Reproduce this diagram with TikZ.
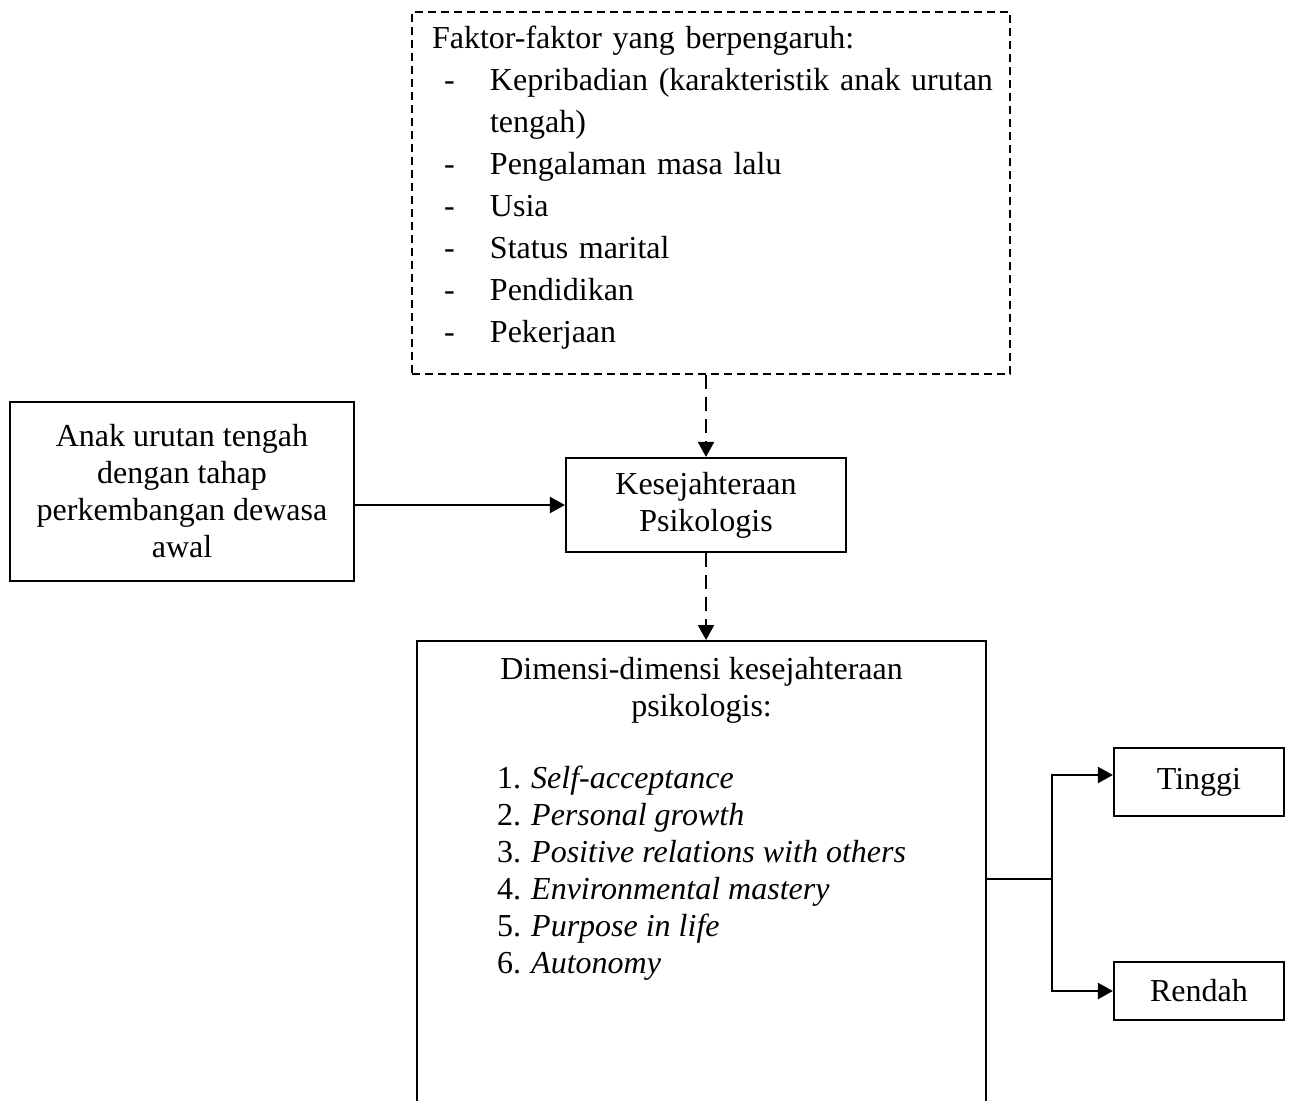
\documentclass[tikz,border=0pt]{standalone}
\usepackage{fontspec}
\setmainfont{Liberation Serif}
\usetikzlibrary{arrows.meta}
\begin{document}
\begin{tikzpicture}[x=0.5pt, y=-0.5pt, >={Triangle[length=7.5pt,width=8pt]},
  line width=1.1pt,
  txt/.style={font=\fontsize{16}{18.5}\selectfont},
  box/.style={draw, txt, align=center, inner sep=0pt},
  dashbox/.style={draw, dash pattern=on 4pt off 2.5pt},
  dasharrow/.style={->, dash pattern=on 7pt off 4pt}]
\useasboundingbox (0, 0) rectangle (1294, 1100);
\clip (0, 0) rectangle (1294, 1100);

\node[dashbox, minimum width=299pt, minimum height=181pt] (faktor) at (711, 193) {};
\node[font=\fontsize{16}{21}\selectfont, align=left, text width=288pt, inner sep=0pt, anchor=west]
  (faktortext) at ([xshift=10pt, yshift=2.5pt]faktor.west)
  {Faktor-faktor yang berpengaruh:\\
   \makebox[29pt][l]{\hspace{6pt}-}Kepribadian (karakteristik anak urutan\\
   \hspace*{29pt}tengah)\\
   \makebox[29pt][l]{\hspace{6pt}-}Pengalaman masa lalu\\
   \makebox[29pt][l]{\hspace{6pt}-}Usia\\
   \makebox[29pt][l]{\hspace{6pt}-}Status marital\\
   \makebox[29pt][l]{\hspace{6pt}-}Pendidikan\\
   \makebox[29pt][l]{\hspace{6pt}-}Pekerjaan};

\node[box, minimum width=172pt, minimum height=89.5pt] (anak) at (182, 491.5)
  {Anak urutan tengah\\dengan tahap\\perkembangan dewasa\\awal};
\node[box, minimum width=140pt, minimum height=47pt] (kes) at (706, 505)
  {Kesejahteraan\\Psikologis};

\node[draw, anchor=north west, minimum width=284.5pt, minimum height=238pt] (dimbox) at (416, 640) {};
\node[txt, align=center, anchor=north, inner sep=0pt] (dimtext) at ([yshift=-8pt]dimbox.north)
  {Dimensi-dimensi kesejahteraan\\psikologis:\\[18.5pt]
   \begin{tabular}{@{}p{17pt}@{}l@{}}
   1. & \textit{Self-acceptance}\\
   2. & \textit{Personal growth}\\
   3. & \textit{Positive relations with others}\\
   4. & \textit{Environmental mastery}\\
   5. & \textit{Purpose in life}\\
   6. & \textit{Autonomy}
   \end{tabular}};

\node[box, minimum width=85pt, minimum height=34pt] (tinggi) at (1199, 782) {Tinggi};
\node[box, minimum width=85pt, minimum height=29pt] (rendah) at (1199, 991) {Rendah};

\draw[->] (anak.east |- kes.west) -- (kes.west);
\draw[dasharrow] (kes.north |- faktor.south) -- (kes.north);
\draw[dasharrow] (kes.south) -- (kes.south |- dimbox.north);

\coordinate (fork) at ([xshift=32.5pt]dimbox.east);
\draw (dimbox.east) -- (fork);
\draw[->] (fork) |- ([yshift=3.5pt]tinggi.west);
\draw[->] (fork) |- (rendah.west);
\end{tikzpicture}
\end{document}
